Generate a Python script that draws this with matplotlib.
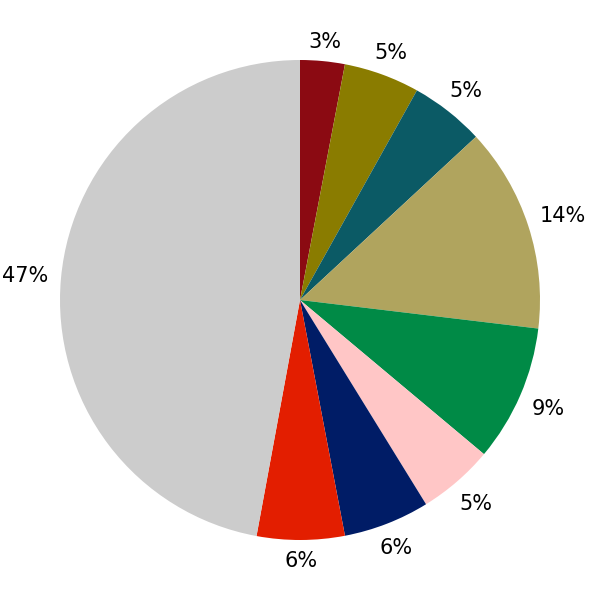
import numpy as np
import matplotlib
matplotlib.use("Agg")
import matplotlib.pyplot as plt

# slice shares (%), clockwise from the top
values = [3.0, 5.1, 5.0, 13.8, 9.2, 5.1, 5.8, 5.9, 47.1]
labels = ["3%", "5%", "5%", "14%", "9%", "5%", "6%", "6%", "47%"]
colors = ["#8b0a12", "#8a7c00", "#0b5a65", "#b0a45e", "#008a46",
          "#ffc6c6", "#001c66", "#e31e00", "#cccccc"]

fig = plt.figure(figsize=(6, 6), dpi=100)
ax = fig.add_axes([0, 0, 1, 1])
wedges, texts = ax.pie(values, colors=colors, startangle=90, counterclock=False,
                       labels=labels, labeldistance=1.05,
                       textprops={"fontsize": 15, "ha": "center", "va": "center"})
ax.set_xlim(-1.25, 1.25)
ax.set_ylim(-1.25, 1.25)
ax.set_aspect("equal")

# push each label out so its glyph box sits just outside the circle
fig.canvas.draw()
r = fig.canvas.get_renderer()
px_per_unit = 600 / 2.5
cap_half = 7.3 / px_per_unit  # half the glyph height
for w, t in zip(wedges, texts):
    ang = np.deg2rad((w.theta1 + w.theta2) / 2)
    bb = t.get_window_extent(r)
    half_w = bb.width / 2 / px_per_unit
    d = 1.05 + half_w * abs(np.cos(ang)) + cap_half * abs(np.sin(ang))
    t.set_position((d * np.cos(ang), d * np.sin(ang) - cap_half))
    t.set_ha("center")
    t.set_va("baseline")

fig.savefig("out.png", dpi=100)
